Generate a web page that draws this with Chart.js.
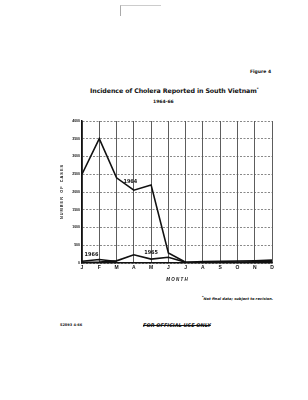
<!DOCTYPE html>
<html>
<head>
<meta charset="utf-8">
<script src="https://cdn.jsdelivr.net/npm/chart.js@4"></script>
<style>
  body { margin: 0; width: 308px; height: 400px; background: #fff; position: relative; overflow: hidden; font-family: "DejaVu Sans", sans-serif; color: #111; }
  .txt { position: absolute; white-space: nowrap; }
  #chartBox { position: absolute; left: 60px; top: 115px; width: 220px; height: 167px; }
</style>
</head>
<body>
<div class="txt" style="left:120px;top:5px;width:40px;height:10px;border-left:1px solid #aaa;border-top:1px solid #ccc;"></div>
<div class="txt" style="left:250px;top:69px;font-size:4.5px;font-weight:bold;">Figure 4</div>
<div class="txt" style="left:90px;top:87px;font-size:6.3px;font-weight:bold;letter-spacing:-0.1px;">Incidence of Cholera Reported in South Vietnam<sup style="font-size:3.5px">*</sup></div>
<div class="txt" style="left:153px;top:99px;font-size:4.5px;font-weight:bold;">1964-66</div>
<div id="chartBox"><canvas id="choleraChart"></canvas></div>
<div class="txt" style="left:202px;top:295px;font-size:3.6px;font-style:italic;font-weight:bold;"><sup style="font-size:3px">*</sup>Not final data; subject to revision.</div>
<div class="txt" style="left:60px;top:323px;font-size:3.5px;font-weight:bold;">52893 4-66</div>
<div class="txt" style="left:143px;top:322px;font-size:5px;font-weight:bold;font-style:italic;text-decoration:line-through;">FOR OFFICIAL USE ONLY</div>

<script>
// month axis and series
const months = ["J", "F", "M", "A", "M", "J", "J", "A", "S", "O", "N", "D"];
const cases1964 = [2500, 3500, 2400, 2050, 2200, 280, 20, 20, 25, 30, 35, 40];
const cases1965 = [20, 30, 60, 230, 110, 160, 20, 40, 45, 55, 65, 80];
const cases1966 = [50, 100, 40];
const yTicks = [0, 500, 1000, 1500, 2000, 2500, 3000, 3500, 4000];

// where the year labels sit: [label, month index, value]
const seriesLabels = [
  ["1964", 2.8, 2300],
  ["1965", 4.0, 290],
  ["1966", 0.55, 240],
];

const lineStyle = { borderColor: "#111", borderWidth: 1.6, pointRadius: 0, tension: 0, fill: false };

// draws the year names beside their lines
const yearLabelPlugin = {
  id: "yearLabels",
  afterDatasetsDraw(chart) {
    const { ctx, scales } = chart;
    ctx.save();
    ctx.font = "bold 5.5px 'DejaVu Sans Condensed', sans-serif";
    ctx.fillStyle = "#111";
    ctx.textAlign = "center";
    ctx.textBaseline = "middle";
    seriesLabels.forEach(([txt, xi, v]) => {
      ctx.fillText(txt, scales.x.getPixelForValue(xi), scales.y.getPixelForValue(v));
    });
    ctx.restore();
  }
};

const ctx = document.getElementById("choleraChart").getContext("2d");
new Chart(ctx, {
  type: "line",
  data: {
    datasets: [
      { label: "1964", data: cases1964.map((v, i) => ({ x: i, y: v })), ...lineStyle },
      { label: "1965", data: cases1965.map((v, i) => ({ x: i, y: v })), ...lineStyle },
      { label: "1966", data: cases1966.map((v, i) => ({ x: i, y: v })), ...lineStyle },
    ],
  },
  options: {
    responsive: true,
    maintainAspectRatio: false,
    animation: false,
    layout: { padding: { top: 6, right: 8, left: 0, bottom: 0 } },
    plugins: { legend: { display: false }, tooltip: { enabled: false } },
    scales: {
      x: {
        type: "linear",
        min: 0,
        max: 11,
        afterFit: (scale) => { scale.height = 19; },
        afterBuildTicks: (scale) => { scale.ticks = months.map((m, i) => ({ value: i })); },
        ticks: {
          autoSkip: false,
          maxRotation: 0,
          padding: 2,
          color: "#111",
          font: { size: 5, weight: "bold" },
          callback: (v) => months[v],
        },
        grid: { color: "#333", lineWidth: 0.8, drawTicks: false },
        border: { color: "#111", width: 1.5 },
        title: {
          display: true,
          text: "M O N T H",
          color: "#111",
          padding: { top: 2, bottom: 0 },
          font: { size: 4.5, weight: "bold", style: "italic" },
        },
      },
      y: {
        min: 0,
        max: 4000,
        afterFit: (scale) => { scale.width = 22; },
        afterBuildTicks: (scale) => { scale.ticks = yTicks.map((v) => ({ value: v })); },
        ticks: {
          padding: 2,
          color: "#111",
          font: { size: 3.5, weight: "bold" },
          callback: (v) => String(v),
        },
        grid: { color: "#555", lineWidth: 0.7, drawTicks: false },
        border: { color: "#111", width: 1.5, dash: [2, 1.5] },
        title: {
          display: true,
          text: "N U M B E R    O F    C A S E S",
          color: "#111",
          padding: { top: 0, bottom: 0 },
          font: { size: 3.8, weight: "bold" },
        },
      },
    },
  },
  plugins: [yearLabelPlugin],
});
</script>
</body>
</html>
